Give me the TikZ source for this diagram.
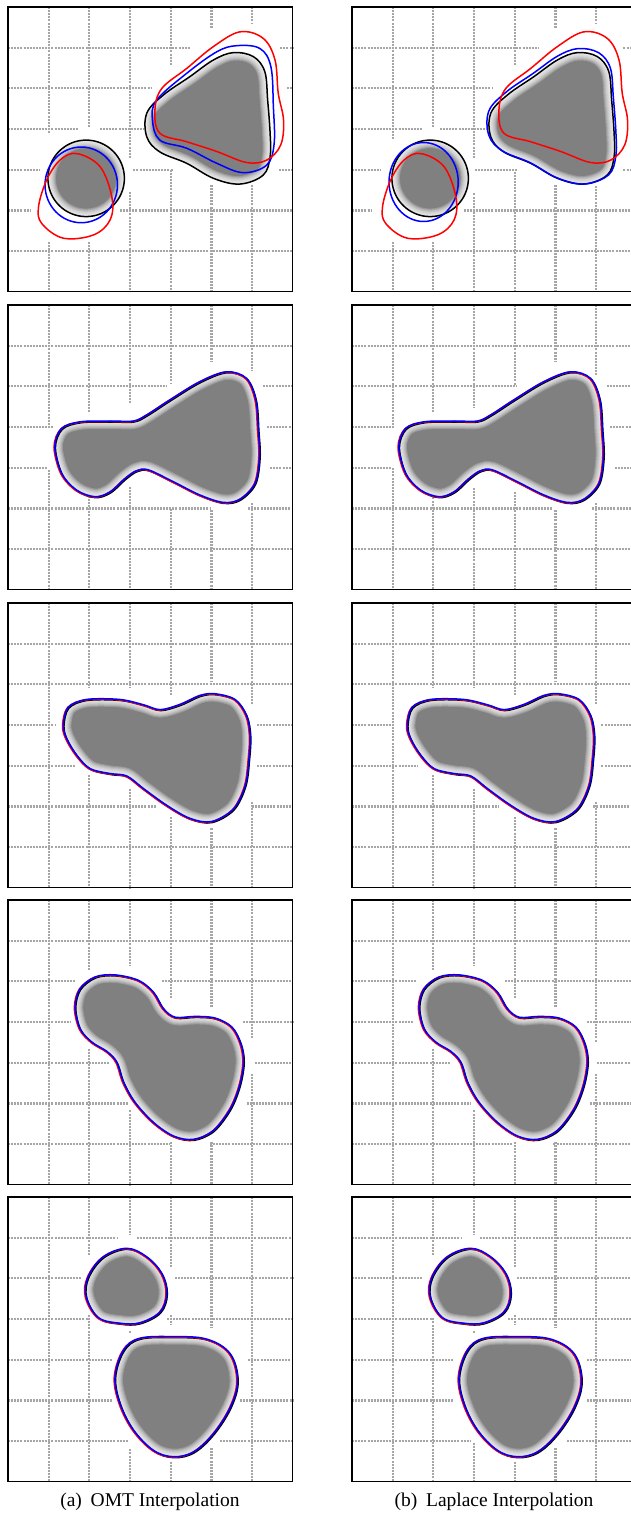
\documentclass[tikz,border=0pt]{standalone}
\usepackage{fontspec}
\setmainfont{Liberation Serif}
\tikzset{
  gridln/.style={draw=gray!70, line width=2.1pt, dash pattern=on 2pt off 1.1pt},
  frame/.style={draw=black, line width=1.1pt},
  cblack/.style={draw=black, line width=1.5pt},
  cred/.style={draw=red, line width=1.5pt},
  cblue/.style={draw=blue, line width=1.5pt},
  captxt/.style={font=\fontsize{19.5}{22}\selectfont, anchor=base}
}
\newcommand\gridsegs[2]{%
  \foreach \k/\a/\b in {#1} {\draw[gridln] (\k,\a) -- (\k,\b);}
  \foreach \k/\a/\b in {#2} {\draw[gridln] (\a,\k) -- (\b,\k);}
}
\newcommand\blob[1]{%
  \begin{scope}
    \clip #1;
    \fill[gray] (0,0) rectangle (7,7);
    \foreach \w in {2,4,6,8,10,12,14,16} {\draw[white, line width=\w pt, opacity=.2] #1;}
  \end{scope}}
% panel 1 shapes
\def\pOneSmallBlack{(1.92,4.21) circle[radius=0.94]}
\def\pOneSmallBlueA{(1.8,4.37) ellipse[x radius=0.89, y radius=0.93]}
\def\pOneSmallBlueB{(1.76,4.3) ellipse[x radius=0.85, y radius=0.97]}
\def\pOneSmallRed{plot[smooth cycle, tension=0.6] coordinates {(1.69,3.6) (2.26,3.92) (2.55,4.66) (2.51,5.23) (2.10,5.6) (1.36,5.68) (0.83,5.32) (0.75,4.91) (0.95,4.25) (1.28,3.76)}}
\def\pOneBigBlack{plot[smooth cycle, tension=0.6] coordinates {(5.54,1.12) (6.03,1.22) (6.31,1.59) (6.38,2.29) (6.44,3.10) (6.44,3.68) (6.27,4.13) (5.7,4.35) (5.05,4.21) (4.39,3.84) (3.73,3.56) (3.41,3.19) (3.41,2.61) (3.82,2.16) (4.47,1.71) (5.05,1.30)}}
\def\pOneBigBlue{plot[smooth cycle, tension=0.6] coordinates {(5.62,0.95) (6.19,1.02) (6.46,1.47) (6.52,2.45) (6.54,3.35) (6.36,3.88) (5.78,4.07) (5.13,3.84) (4.39,3.47) (3.73,3.27) (3.55,2.78) (3.65,2.29) (4.39,1.63) (5.13,1.10)}}
\def\pOneBigRed{plot[smooth cycle, tension=0.6] coordinates {(5.70,0.61) (6.27,0.77) (6.56,1.30) (6.64,2.12) (6.77,2.78) (6.70,3.39) (6.36,3.76) (5.86,3.82) (5.13,3.55) (4.39,3.31) (3.73,3.10) (3.61,2.53) (3.78,2.0) (4.39,1.51) (5.05,0.97)}}
% row 2
\def\pTwo{plot[smooth cycle, tension=0.55] coordinates {(1.15,3.48) (1.32,3.03) (1.77,2.87) (2.51,2.85) (3.08,2.85) (3.41,2.70) (3.98,2.33) (4.72,1.88) (5.37,1.64) (5.86,1.80) (6.09,2.33) (6.15,3.07) (6.18,3.73) (6.07,4.38) (5.70,4.77) (5.29,4.85) (4.72,4.67) (4.06,4.34) (3.45,4.05) (3.16,4.07) (2.88,4.26) (2.51,4.59) (2.14,4.71) (1.69,4.55) (1.32,4.14)}}
% row 3
\def\pThree{plot[smooth cycle, tension=0.55] coordinates {(1.36,3.0) (1.48,2.56) (1.93,2.37) (2.75,2.37) (3.33,2.50) (3.74,2.62) (4.23,2.49) (4.72,2.27) (5.09,2.23) (5.58,2.37) (5.86,2.76) (5.95,3.25) (5.92,3.83) (5.83,4.48) (5.54,5.06) (5.0,5.37) (4.47,5.29) (3.90,4.97) (3.33,4.56) (2.92,4.25) (2.51,4.19) (2.02,4.07) (1.69,3.74) (1.44,3.33)}}
% row 4
\def\pFour{plot[smooth cycle, tension=0.55] coordinates {(1.65,2.63) (1.77,2.18) (2.14,1.89) (2.63,1.84) (3.20,1.97) (3.57,2.26) (3.82,2.67) (4.11,2.88) (4.60,2.86) (5.09,2.90) (5.50,3.12) (5.72,3.53) (5.79,3.98) (5.69,4.56) (5.46,5.13) (5.05,5.66) (4.56,5.88) (4.07,5.80) (3.57,5.46) (3.12,4.97) (2.84,4.48) (2.67,3.98) (2.43,3.72) (2.06,3.49) (1.77,3.16)}}
% row 5
\def\pFiveA{plot[smooth cycle, tension=0.6] coordinates {(2.92,1.26) (3.41,1.47) (3.78,1.88) (3.90,2.37) (3.74,2.82) (3.24,3.09) (2.75,3.10) (2.22,2.96) (1.92,2.45) (1.97,1.96) (2.34,1.47)}}
\def\pFiveB{plot[smooth cycle, tension=0.6] coordinates {(3.24,3.47) (4.06,3.43) (4.88,3.49) (5.45,3.84) (5.64,4.50) (5.47,5.15) (5.05,5.81) (4.56,6.26) (4.06,6.38) (3.57,6.22) (3.08,5.72) (2.75,5.07) (2.63,4.41) (2.84,3.76)}}
\newcommand\triple[1]{%
  \draw[cblack, shift={(0.015,0.025)}] #1;
  \draw[cred, shift={(-0.02,0.012)}] #1;
  \draw[cblue] #1;}
\begin{document}
\begin{tikzpicture}
\useasboundingbox (0,0) rectangle (631pt,-1513pt);
\fill[white] (0,0) rectangle (631pt,-1513pt);
% ---------- row 1 left
\begin{scope}[shift={(8pt,-7pt)}, x=40.7pt, y=-40.7pt]
  \gridsegs{1/0/3.1, 1/5.77/7, 2/0/2.94, 2/5.77/7, 3/0/3.72, 3/4.54/7, 4/0/1.43, 4/4.0/7, 5/0/0.52, 5/4.37/7, 6/0/0.4, 6/4.37/7}
           {1/0/4.47, 1/6.69/7, 2/0/3.53, 2/6.85/7, 3/0/1.73, 3/2.26/3.33, 4/0/0.79, 4/3.08/4.07, 4/6.65/7, 5/0/0.54, 5/2.75/7, 6/0/7}
  \blob{\pOneSmallBlack}
  \blob{\pOneBigBlack}
  \draw[cblack] \pOneSmallBlack;
  \draw[cblack] \pOneBigBlack;
  \draw[cblue] \pOneSmallBlueA;
  \draw[cblue] \pOneBigBlue;
  \draw[cred] \pOneSmallRed;
  \draw[cred] \pOneBigRed;
  \draw[frame] (0,0) rectangle (7,7);
\end{scope}
% ---------- row 1 right
\begin{scope}[shift={(352pt,-7pt)}, x=40.7pt, y=-40.7pt]
  \gridsegs{1/0/3.27, 1/5.77/7, 2/0/2.94, 2/5.77/7, 3/0/3.72, 3/4.58/7, 4/0/1.43, 4/4.05/7, 5/0/0.52, 5/4.37/7, 6/0/0.4, 6/4.4/7}
           {1/0/4.58, 1/6.67/7, 2/0/3.47, 2/6.85/7, 3/0/1.71, 3/2.16/3.31, 4/0/0.69, 4/3.02/4.05, 4/6.67/7, 5/0/0.48, 5/2.74/7, 6/0/7}
  \blob{\pOneSmallBlack}
  \blob{\pOneBigBlack}
  \draw[cblack] \pOneSmallBlack;
  \draw[cblack] \pOneBigBlack;
  \draw[cblue] \pOneSmallBlueB;
  \draw[cblue, shift={(5.0,2.7)}, scale=1.03, shift={(-5.0,-2.75)}] \pOneBigBlack;
  \draw[cred] \pOneSmallRed;
  \draw[cred] \pOneBigRed;
  \draw[frame] (0,0) rectangle (7,7);
\end{scope}
% ---------- row 2 left
\begin{scope}[shift={(8pt,-305pt)}, x=40.7pt, y=-40.7pt]
  \gridsegs{1/0/2.95, 1/4.05/7, 2/0/2.62, 2/4.46/7, 3/0/2.42, 3/4.46/7, 4/0/1.92, 4/5.0/7, 5/0/1.39, 5/5.04/7, 6/0/1.6, 6/4.87/7}
           {1/0/7, 2/0/3.9, 2/6.27/7, 3/0/1.11, 3/6.36/7, 4/0/0.95, 4/6.44/7, 5/0/4.96, 5/5.9/7, 6/0/7}
  \blob{\pTwo}
  \triple{\pTwo}
  \draw[frame] (0,0) rectangle (7,7);
\end{scope}
% ---------- row 2 right
\begin{scope}[shift={(352pt,-305pt)}, x=40.7pt, y=-40.7pt]
  \gridsegs{1/0/2.95, 1/4.01/7, 2/0/2.62, 2/4.5/7, 3/0/2.54, 3/4.5/7, 4/0/1.97, 4/4.59/7, 5/0/1.39, 5/5.04/7, 6/0/1.72, 6/4.87/7}
           {1/0/7, 2/0/4.05, 2/6.26/7, 3/0/1.06, 3/6.34/7, 4/0/0.98, 4/6.46/7, 5/0/4.95, 5/5.89/7, 6/0/7}
  \blob{\pTwo}
  \triple{\pTwo}
  \draw[frame] (0,0) rectangle (7,7);
\end{scope}
% ---------- row 3 left
\begin{scope}[shift={(8pt,-603pt)}, x=40.7pt, y=-40.7pt]
  \gridsegs{1/0/7, 2/0/2.1, 2/4.23/7, 3/0/2.1, 3/4.56/7, 4/0/2.27, 4/5.26/7, 5/0/1.94, 5/5.54/7, 6/0/2.51, 6/4.89/7}
           {1/0/7, 2/0/7, 3/0/1.15, 3/6.12/7, 4/0/1.65, 4/6.12/7, 5/0/3.65, 5/5.99/7, 6/0/7}
  \blob{\pThree}
  \triple{\pThree}
  \draw[frame] (0,0) rectangle (7,7);
\end{scope}
% ---------- row 3 right
\begin{scope}[shift={(352pt,-603pt)}, x=40.7pt, y=-40.7pt]
  \gridsegs{1/0/7, 2/0/2.1, 2/4.23/7, 3/0/2.1, 3/4.56/7, 4/0/2.27, 4/5.26/7, 5/0/1.94, 5/5.54/7, 6/0/2.51, 6/4.89/7}
           {1/0/7, 2/0/7, 3/0/1.06, 3/6.13/7, 4/0/1.63, 4/6.13/7, 5/0/3.6, 5/5.93/7, 6/0/7}
  \blob{\pThree}
  \triple{\pThree}
  \draw[frame] (0,0) rectangle (7,7);
\end{scope}
% ---------- row 4 left
\begin{scope}[shift={(8pt,-900pt)}, x=40.7pt, y=-40.7pt]
  \gridsegs{1/0/7, 2/0/1.73, 2/3.65/7, 3/0/1.6, 3/5.17/7, 4/0/2.42, 4/5.95/7, 5/0/2.63, 5/5.95/7, 6/0/3.4, 6/4.27/7}
           {1/0/7, 2/0/1.65, 2/3.78/7, 3/0/1.56, 3/5.78/7, 4/0/2.5, 4/6.07/7, 5/0/2.96, 5/5.86/7, 6/0/3.98, 6/4.96/7}
  \blob{\pFour}
  \triple{\pFour}
  \draw[frame] (0,0) rectangle (7,7);
\end{scope}
% ---------- row 4 right
\begin{scope}[shift={(352pt,-900pt)}, x=40.7pt, y=-40.7pt]
  \gridsegs{1/0/7, 2/0/1.73, 2/3.65/7, 3/0/1.6, 3/5.17/7, 4/0/2.42, 4/5.95/7, 5/0/2.63, 5/5.95/7, 6/0/3.5, 6/4.27/7}
           {1/0/7, 2/0/1.59, 2/3.76/7, 3/0/1.51, 3/5.77/7, 4/0/2.41, 4/6.01/7, 5/0/2.9, 5/5.85/7, 6/0/3.96, 6/4.95/7}
  \blob{\pFour}
  \triple{\pFour}
  \draw[frame] (0,0) rectangle (7,7);
\end{scope}
% ---------- row 5 left
\begin{scope}[shift={(8pt,-1197pt)}, x=40.7pt, y=-40.7pt]
  \gridsegs{1/0/7, 2/0/1.43, 2/2.9/7, 3/0/0.93, 3/3.28/3.34, 3/6.2/7, 4/0/1.71, 4/2.9/3.15, 4/6.5/7, 5/0/3.23, 5/6.17/7, 6/0/7}
           {1/0/2.71, 1/3.16/7, 2/0/1.81, 2/4.1/7, 3/0/2.0, 3/3.9/7, 4/0/2.55, 4/5.9/7, 5/0/2.55, 5/5.7/7, 6/0/2.96, 6/5.2/7}
  \blob{\pFiveA}
  \blob{\pFiveB}
  \triple{\pFiveA}
  \triple{\pFiveB}
  \draw[frame] (0,0) rectangle (7,7);
\end{scope}
% ---------- row 5 right
\begin{scope}[shift={(352pt,-1197pt)}, x=40.7pt, y=-40.7pt]
  \gridsegs{1/0/7, 2/0/1.43, 2/2.98/7, 3/0/0.93, 3/3.28/3.34, 3/6.05/7, 4/0/1.75, 4/2.9/3.15, 4/6.5/7, 5/0/3.23, 5/6.17/7, 6/0/7}
           {1/0/2.69, 1/3.14/7, 2/0/1.71, 2/4.05/7, 3/0/1.96, 3/3.84/7, 4/0/2.49, 4/5.77/7, 5/0/2.49, 5/5.77/7, 6/0/2.9, 6/5.28/7}
  \blob{\pFiveA}
  \blob{\pFiveB}
  \triple{\pFiveA}
  \triple{\pFiveB}
  \draw[frame] (0,0) rectangle (7,7);
\end{scope}
% captions
\node[captxt] (capa) at (150pt,-1506pt) {(a)\hspace{0.45em}OMT Interpolation};
\node[captxt] (capb) at (494pt,-1506pt) {(b)\hspace{0.45em}Laplace Interpolation};
\end{tikzpicture}
\end{document}
